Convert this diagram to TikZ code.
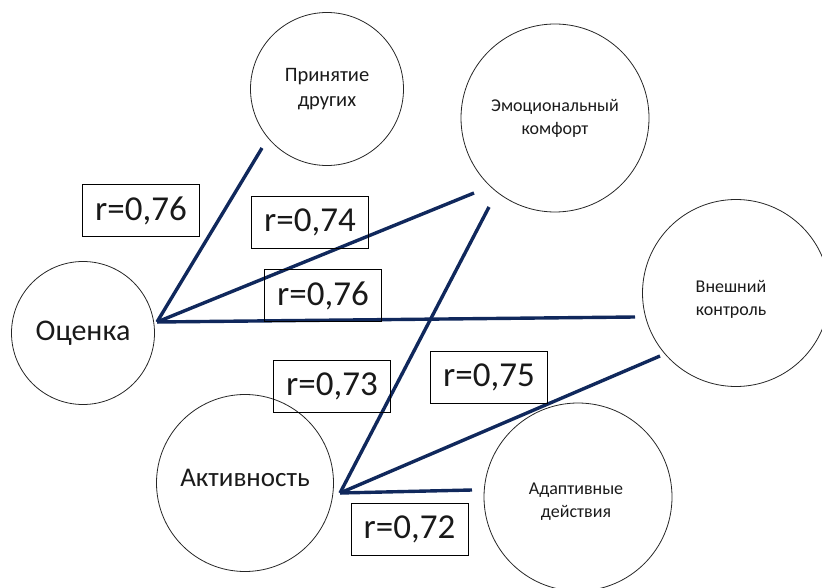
\documentclass[tikz,border=0pt]{standalone}
\usepackage{fontspec}
\setmainfont{Carlito}
\definecolor{linkblue}{HTML}{10285C}
\definecolor{txt}{HTML}{1A1A1A}
\begin{document}
\begin{tikzpicture}[x=1pt,y=-1pt,
  factor/.style={circle,draw=black!85,line width=0.8pt,align=center,text=txt,inner sep=0pt},
  small/.style={font=\fontsize{18}{23}\selectfont},
  big/.style={font=\fontsize{27}{32}\selectfont},
  rbox/.style={draw=black,line width=0.9pt,minimum width=117pt,minimum height=52pt,inner sep=0pt,font=\fontsize{35}{40}\selectfont,text=black!90},
  link/.style={draw=linkblue,line width=3.4pt}]
\useasboundingbox (0,0) rectangle (822,588);
% circles
\node[factor,font=\fontsize{20.5}{25}\selectfont,minimum size=153pt] (prin) at (327,89) {Принятие\\другиx};
\node[factor,small,minimum size=188pt] (emo) at (555,118) {Эмоциональный\\комфорт};
\node[factor,small,minimum size=187pt] (vne) at (736,293) {};
\node[small,text=txt,align=center] (vnet) at (731,299) {Внешний\\контроль};
\node[factor,font=\fontsize{30}{34}\selectfont,minimum size=143pt] (ots) at (83,333) {Оценка};
\node[factor,minimum size=177pt] (akt) at (245,483) {};
\node[big,text=txt] (aktt) at (245,478) {Активность};
\node[factor,minimum size=188pt] (ada) at (578,497) {};
\node[small,text=txt,align=center] (adat) at (576,502) {Адаптивные\\действия};
% hubs and free ends
\coordinate (h1) at (157,322);
\coordinate (h2) at (340,493);
\coordinate (e1) at (262,148);
\coordinate (e2) at (474,193);
\coordinate (e3) at (635,317);
\coordinate (e4) at (489,207);
\coordinate (e5) at (660,356);
\coordinate (e6) at (472,490);
% links
\draw[link] (h1) -- (e1);
\draw[link] (h1) -- (e2);
\draw[link] (h1) -- (e3);
\draw[link] (h2) -- (e4);
\draw[link] (h2) -- (e5);
\draw[link] (h2) -- (e6);
% labels
\node[rbox] (b1) at (141,210.5) {r=0,76};
\node[rbox] (b2) at (310,222) {r=0,74};
\node[rbox] (b3) at (323,295.5) {r=0,76};
\node[rbox] (b4) at (332,386) {r=0,73};
\node[rbox] (b5) at (489,377) {r=0,75};
\node[rbox] (b6) at (409.5,529.5) {r=0,72};
\end{tikzpicture}
\end{document}
